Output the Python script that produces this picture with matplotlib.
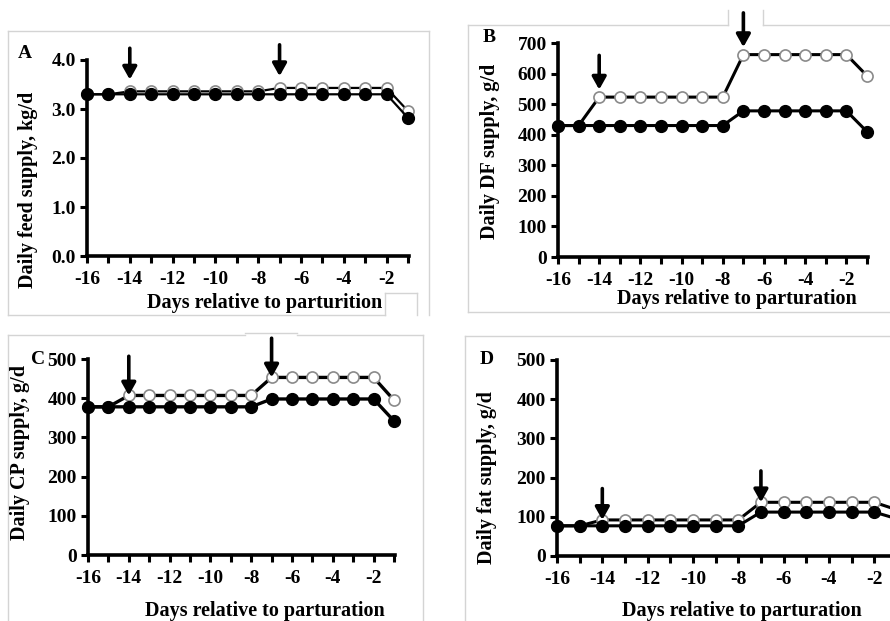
import matplotlib
matplotlib.use("Agg")
import matplotlib.pyplot as plt
from matplotlib.lines import Line2D

days = list(range(-16, 0))

# Panel A: daily feed supply, kg/d
feed_control = [3.30] * 15 + [2.82]
feed_treat = [3.30, 3.30] + [3.36] * 7 + [3.43] * 6 + [2.96]
# Panel B: daily DF supply, g/d
df_control = [430] * 9 + [478] * 6 + [410]
df_treat = [430, 430] + [523] * 7 + [662] * 6 + [593]
# Panel C: daily CP supply, g/d
cp_control = [378] * 9 + [398] * 6 + [342]
cp_treat = [378, 378] + [407] * 7 + [453] * 6 + [395]
# Panel D: daily fat supply, g/d
fat_control = [77] * 9 + [112] * 6 + [95]
fat_treat = [77, 77] + [92] * 7 + [137] * 6 + [118]

arrow_days = [-14, -7]
xtick_labels = ["-16", "-14", "-12", "-10", "-8", "-6", "-4", "-2"]

W, H = 890, 621
fig = plt.figure(figsize=(W / 100, H / 100), dpi=100)
FONT = "Liberation Serif"
TICK_FS = 14
LAB_FS = 14.5


def fx(x):
    return x / W


def fy(y):
    return 1 - y / H


def add_axes(l, r, t, b):
    return fig.add_axes([fx(l), fy(b), fx(r) - fx(l), fy(t) - fy(b)])


# light grey frames of the original chart areas
def frame_lines(segs):
    for (x0, y0, x1, y1) in segs:
        fig.add_artist(Line2D([fx(x0), fx(x1)], [fy(y0), fy(y1)], color="#d4d4d4", lw=1.0))


frame_lines([(8, 31, 429, 31), (8, 31, 8, 315), (429, 31, 429, 315), (8, 315, 385, 315),
             (385, 293, 417, 293), (385, 293, 385, 315), (417, 293, 417, 315)])
frame_lines([(468, 25, 728, 25), (763, 25, 890, 25), (728, 10, 728, 25), (763, 10, 763, 25),
             (468, 25, 468, 312), (468, 312, 890, 312)])
frame_lines([(8, 335, 245, 335), (297, 335, 423, 335), (245, 333, 297, 333),
             (8, 335, 8, 621), (423, 335, 423, 621)])
frame_lines([(465, 336, 890, 336), (465, 336, 465, 621)])


def style(ax, ylim, yticks, yfmt, ylabel, letter, letter_xy, ylabel_xy, xlabel_xy, xlabel,
          arrow_off, lw, tr, ctrl, arrow_len):
    ax.plot(days, tr, color="black", lw=lw, marker="o", ms=8, mfc="white",
            mec="#8a8a8a", mew=1.2, zorder=3, clip_on=False)
    ax.plot(days, ctrl, color="black", lw=lw, marker="o", ms=8.5, mfc="black",
            mec="black", zorder=4, clip_on=False)
    ax.set_xlim(-16, -0.95)
    ax.set_ylim(*ylim)
    ax.set_xticks(days)
    ax.set_xticklabels([])
    ax.set_yticks(yticks)
    ax.set_yticklabels([yfmt.format(v) for v in yticks], fontfamily=FONT,
                       fontweight="bold", fontsize=TICK_FS)
    for s in ["top", "right"]:
        ax.spines[s].set_visible(False)
    for s in ["left", "bottom"]:
        ax.spines[s].set_linewidth(2.6)
    ax.tick_params(axis="both", direction="out", length=5, width=2.2, pad=3)
    ax.patch.set_alpha(0)
    # even-day tick labels
    for lab in xtick_labels:
        ax.annotate(lab, xy=(float(lab), ylim[0]), xytext=(0, -17), textcoords="offset points",
                    ha="center", va="center", fontfamily=FONT, fontweight="bold",
                    fontsize=TICK_FS, annotation_clip=False)
    yr = ylim[1] - ylim[0]
    for d in arrow_days:
        v = tr[days.index(d)]
        tip = v + arrow_off * yr
        ax.annotate("", xy=(d, tip), xytext=(d, tip + arrow_len * yr),
                    arrowprops=dict(arrowstyle="-|>,head_length=0.75,head_width=0.42",
                                    color="black", lw=2.6, shrinkA=0, shrinkB=0),
                    annotation_clip=False)
    fig.text(fx(letter_xy[0]), fy(letter_xy[1]), letter, fontfamily=FONT,
             fontweight="bold", fontsize=14, ha="center", va="center")
    fig.text(fx(ylabel_xy[0]), fy(ylabel_xy[1]), ylabel, fontfamily=FONT,
             fontweight="bold", fontsize=LAB_FS, ha="center", va="center", rotation=90)
    fig.text(fx(xlabel_xy[0]), fy(xlabel_xy[1]), xlabel, fontfamily=FONT,
             fontweight="bold", fontsize=LAB_FS, ha="center", va="center")


axA = add_axes(87, 409, 60, 256)
style(axA, (0, 4.0), [0.0, 1.0, 2.0, 3.0, 4.0], "{:.1f}", "Daily feed supply, kg/d", "A",
      (25, 53), (28, 190), (265, 303), "Days relative to parturition", 0.06, 1.6,
      feed_treat, feed_control, 0.16)

axB = add_axes(558, 868, 43, 257)
style(axB, (0, 700), [0, 100, 200, 300, 400, 500, 600, 700], "{:d}", "Daily DF supply, g/d", "B",
      (489, 37), (490, 151), (737, 299), "Days relative to parturation", 0.035, 2.2,
      df_treat, df_control, 0.16)

axC = add_axes(88, 395, 359, 555)
style(axC, (0, 500), [0, 100, 200, 300, 400, 500], "{:d}", "Daily CP supply, g/d", "C",
      (38, 360), (20, 452), (265, 611), "Days relative to parturation", 0.0, 2.4,
      cp_treat, cp_control, 0.2)

axD = add_axes(557, 898, 360, 556)
style(axD, (0, 500), [0, 100, 200, 300, 400, 500], "{:d}", "Daily fat supply, g/d", "D",
      (487, 360), (487, 478), (742, 611), "Days relative to parturation", 0.0, 2.2,
      fat_treat, fat_control, 0.16)

fig.savefig("out.png", dpi=100)
